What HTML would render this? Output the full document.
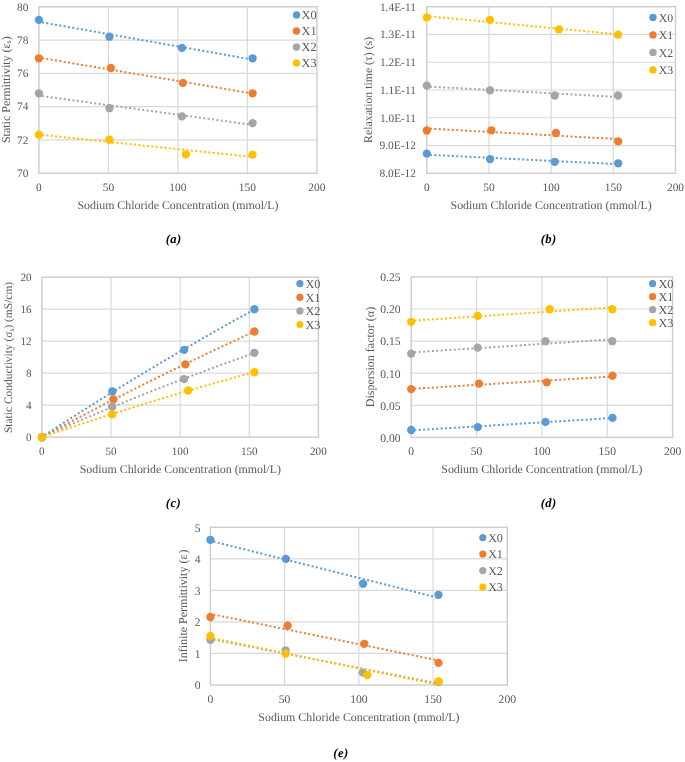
<!DOCTYPE html>
<html><head><meta charset="utf-8"><style>
html,body{margin:0;padding:0;background:#fff;}
svg{display:block;}
text{font-family:"Liberation Serif",serif;fill:#595959;text-rendering:geometricPrecision;}
</style></head><body>
<svg width="685" height="762" viewBox="0 0 685 762">
<rect width="685" height="762" fill="#fff"/>
<g><line x1="38.9" y1="40.08" x2="316.9" y2="40.08" stroke="#D9D9D9" stroke-width="1.2"/>
<line x1="38.9" y1="73.36" x2="316.9" y2="73.36" stroke="#D9D9D9" stroke-width="1.2"/>
<line x1="38.9" y1="106.64" x2="316.9" y2="106.64" stroke="#D9D9D9" stroke-width="1.2"/>
<line x1="38.9" y1="139.92" x2="316.9" y2="139.92" stroke="#D9D9D9" stroke-width="1.2"/>
<line x1="108.4" y1="6.8" x2="108.4" y2="173.2" stroke="#D9D9D9" stroke-width="1.2"/>
<line x1="177.9" y1="6.8" x2="177.9" y2="173.2" stroke="#D9D9D9" stroke-width="1.2"/>
<line x1="247.4" y1="6.8" x2="247.4" y2="173.2" stroke="#D9D9D9" stroke-width="1.2"/>
<rect x="38.9" y="6.8" width="278" height="166.4" fill="none" stroke="#CCCCCC" stroke-width="1.4"/>
<circle cx="38.9" cy="19.9" r="4.15" fill="#5B9BD5"/>
<circle cx="109.4" cy="36.7" r="4.15" fill="#5B9BD5"/>
<circle cx="181.9" cy="47.9" r="4.15" fill="#5B9BD5"/>
<circle cx="252.6" cy="58.3" r="4.15" fill="#5B9BD5"/>
<circle cx="38.9" cy="58.3" r="4.15" fill="#ED7D31"/>
<circle cx="110.9" cy="68" r="4.15" fill="#ED7D31"/>
<circle cx="182.9" cy="82.9" r="4.15" fill="#ED7D31"/>
<circle cx="252.6" cy="93.3" r="4.15" fill="#ED7D31"/>
<circle cx="38.9" cy="93.3" r="4.15" fill="#A5A5A5"/>
<circle cx="109.4" cy="108.2" r="4.15" fill="#A5A5A5"/>
<circle cx="181.9" cy="116.4" r="4.15" fill="#A5A5A5"/>
<circle cx="252.6" cy="123.1" r="4.15" fill="#A5A5A5"/>
<circle cx="38.9" cy="134.7" r="4.15" fill="#FFC000"/>
<circle cx="109.4" cy="139.7" r="4.15" fill="#FFC000"/>
<circle cx="185.9" cy="154.4" r="4.15" fill="#FFC000"/>
<circle cx="252.6" cy="154.6" r="4.15" fill="#FFC000"/>
<line x1="38.9" y1="21.79" x2="252.6" y2="59.63" stroke="#5B9BD5" stroke-width="2" stroke-dasharray="2 2.4" stroke-dashoffset="1.3"/>
<line x1="38.9" y1="57.56" x2="252.6" y2="93.5" stroke="#ED7D31" stroke-width="2" stroke-dasharray="2 2.4" stroke-dashoffset="1.3"/>
<line x1="38.9" y1="95.65" x2="252.6" y2="124.86" stroke="#A5A5A5" stroke-width="2" stroke-dasharray="2 2.4" stroke-dashoffset="1.3"/>
<line x1="38.9" y1="134.58" x2="252.6" y2="156.92" stroke="#FFC000" stroke-width="2" stroke-dasharray="2 2.4" stroke-dashoffset="1.3"/>
<circle cx="296.5" cy="15.05" r="3.7" fill="#5B9BD5"/>
<circle cx="296.5" cy="31.05" r="3.7" fill="#ED7D31"/>
<circle cx="296.5" cy="47.05" r="3.7" fill="#A5A5A5"/>
<circle cx="296.5" cy="63.05" r="3.7" fill="#FFC000"/></g>
<g><line x1="426.8" y1="34.47" x2="675.5" y2="34.47" stroke="#D9D9D9" stroke-width="1.2"/>
<line x1="426.8" y1="62.23" x2="675.5" y2="62.23" stroke="#D9D9D9" stroke-width="1.2"/>
<line x1="426.8" y1="90" x2="675.5" y2="90" stroke="#D9D9D9" stroke-width="1.2"/>
<line x1="426.8" y1="117.77" x2="675.5" y2="117.77" stroke="#D9D9D9" stroke-width="1.2"/>
<line x1="426.8" y1="145.53" x2="675.5" y2="145.53" stroke="#D9D9D9" stroke-width="1.2"/>
<line x1="488.98" y1="6.7" x2="488.98" y2="173.3" stroke="#D9D9D9" stroke-width="1.2"/>
<line x1="551.15" y1="6.7" x2="551.15" y2="173.3" stroke="#D9D9D9" stroke-width="1.2"/>
<line x1="613.33" y1="6.7" x2="613.33" y2="173.3" stroke="#D9D9D9" stroke-width="1.2"/>
<rect x="426.8" y="6.7" width="248.7" height="166.6" fill="none" stroke="#CCCCCC" stroke-width="1.4"/>
<circle cx="426.8" cy="153.6" r="4.15" fill="#5B9BD5"/>
<circle cx="490.1" cy="159.1" r="4.15" fill="#5B9BD5"/>
<circle cx="554.7" cy="161.8" r="4.15" fill="#5B9BD5"/>
<circle cx="618.2" cy="163.3" r="4.15" fill="#5B9BD5"/>
<circle cx="426.8" cy="130.5" r="4.15" fill="#ED7D31"/>
<circle cx="491.4" cy="130.3" r="4.15" fill="#ED7D31"/>
<circle cx="555.9" cy="133" r="4.15" fill="#ED7D31"/>
<circle cx="618.2" cy="141.4" r="4.15" fill="#ED7D31"/>
<circle cx="426.8" cy="85.6" r="4.15" fill="#A5A5A5"/>
<circle cx="490" cy="90.3" r="4.15" fill="#A5A5A5"/>
<circle cx="554.7" cy="95.5" r="4.15" fill="#A5A5A5"/>
<circle cx="618" cy="95.5" r="4.15" fill="#A5A5A5"/>
<circle cx="426.8" cy="17.4" r="4.15" fill="#FFC000"/>
<circle cx="490" cy="19.9" r="4.15" fill="#FFC000"/>
<circle cx="558.9" cy="29.3" r="4.15" fill="#FFC000"/>
<circle cx="618" cy="34.7" r="4.15" fill="#FFC000"/>
<line x1="426.8" y1="154.69" x2="618.2" y2="164.21" stroke="#5B9BD5" stroke-width="2" stroke-dasharray="2 2.4" stroke-dashoffset="1.3"/>
<line x1="426.8" y1="128.49" x2="618.2" y2="139.05" stroke="#ED7D31" stroke-width="2" stroke-dasharray="2 2.4" stroke-dashoffset="1.3"/>
<line x1="426.8" y1="86.5" x2="618" y2="96.96" stroke="#A5A5A5" stroke-width="2" stroke-dasharray="2 2.4" stroke-dashoffset="1.3"/>
<line x1="426.8" y1="16.09" x2="618" y2="34.37" stroke="#FFC000" stroke-width="2" stroke-dasharray="2 2.4" stroke-dashoffset="1.3"/>
<circle cx="653" cy="17.4" r="3.7" fill="#5B9BD5"/>
<circle cx="653" cy="34.9" r="3.7" fill="#ED7D31"/>
<circle cx="653" cy="52.4" r="3.7" fill="#A5A5A5"/>
<circle cx="653" cy="69.9" r="3.7" fill="#FFC000"/></g>
<g><line x1="41.9" y1="309.18" x2="318.4" y2="309.18" stroke="#D9D9D9" stroke-width="1.2"/>
<line x1="41.9" y1="341.16" x2="318.4" y2="341.16" stroke="#D9D9D9" stroke-width="1.2"/>
<line x1="41.9" y1="373.14" x2="318.4" y2="373.14" stroke="#D9D9D9" stroke-width="1.2"/>
<line x1="41.9" y1="405.12" x2="318.4" y2="405.12" stroke="#D9D9D9" stroke-width="1.2"/>
<line x1="111.03" y1="277.2" x2="111.03" y2="437.1" stroke="#D9D9D9" stroke-width="1.2"/>
<line x1="180.15" y1="277.2" x2="180.15" y2="437.1" stroke="#D9D9D9" stroke-width="1.2"/>
<line x1="249.28" y1="277.2" x2="249.28" y2="437.1" stroke="#D9D9D9" stroke-width="1.2"/>
<rect x="41.9" y="277.2" width="276.5" height="159.9" fill="none" stroke="#CCCCCC" stroke-width="1.4"/>
<circle cx="41.9" cy="437.2" r="4.15" fill="#5B9BD5"/>
<circle cx="112.4" cy="391.3" r="4.15" fill="#5B9BD5"/>
<circle cx="184.1" cy="349.9" r="4.15" fill="#5B9BD5"/>
<circle cx="254.4" cy="309.2" r="4.15" fill="#5B9BD5"/>
<circle cx="41.9" cy="437.2" r="4.15" fill="#ED7D31"/>
<circle cx="113.4" cy="399.3" r="4.15" fill="#ED7D31"/>
<circle cx="185.4" cy="364.3" r="4.15" fill="#ED7D31"/>
<circle cx="254.4" cy="331.5" r="4.15" fill="#ED7D31"/>
<circle cx="41.9" cy="437.2" r="4.15" fill="#A5A5A5"/>
<circle cx="112.2" cy="406.7" r="4.15" fill="#A5A5A5"/>
<circle cx="184.1" cy="379.1" r="4.15" fill="#A5A5A5"/>
<circle cx="254.4" cy="352.8" r="4.15" fill="#A5A5A5"/>
<circle cx="41.9" cy="437.2" r="4.15" fill="#FFC000"/>
<circle cx="112.2" cy="414.2" r="4.15" fill="#FFC000"/>
<circle cx="188.2" cy="390.5" r="4.15" fill="#FFC000"/>
<circle cx="254.4" cy="372.2" r="4.15" fill="#FFC000"/>
<path d="M41.9,436.93 Q148.15,367.47 254.4,309.47" fill="none" stroke="#5B9BD5" stroke-width="2" stroke-dasharray="2 2.4" stroke-dashoffset="1.3"/>
<path d="M41.9,437.08 Q148.15,379.98 254.4,331.62" fill="none" stroke="#ED7D31" stroke-width="2" stroke-dasharray="2 2.4" stroke-dashoffset="1.3"/>
<path d="M41.9,437.05 Q148.15,390.26 254.4,352.95" fill="none" stroke="#A5A5A5" stroke-width="2" stroke-dasharray="2 2.4" stroke-dashoffset="1.3"/>
<path d="M41.9,437.28 Q148.15,400.76 254.4,372.12" fill="none" stroke="#FFC000" stroke-width="2" stroke-dasharray="2 2.4" stroke-dashoffset="1.3"/>
<circle cx="299.9" cy="283.7" r="3.6" fill="#5B9BD5"/>
<circle cx="299.9" cy="297.3" r="3.6" fill="#ED7D31"/>
<circle cx="299.9" cy="310.9" r="3.6" fill="#A5A5A5"/>
<circle cx="299.9" cy="324.5" r="3.6" fill="#FFC000"/></g>
<g><line x1="411.2" y1="309" x2="672.6" y2="309" stroke="#D9D9D9" stroke-width="1.2"/>
<line x1="411.2" y1="341.1" x2="672.6" y2="341.1" stroke="#D9D9D9" stroke-width="1.2"/>
<line x1="411.2" y1="373.2" x2="672.6" y2="373.2" stroke="#D9D9D9" stroke-width="1.2"/>
<line x1="411.2" y1="405.3" x2="672.6" y2="405.3" stroke="#D9D9D9" stroke-width="1.2"/>
<line x1="476.55" y1="276.9" x2="476.55" y2="437.4" stroke="#D9D9D9" stroke-width="1.2"/>
<line x1="541.9" y1="276.9" x2="541.9" y2="437.4" stroke="#D9D9D9" stroke-width="1.2"/>
<line x1="607.25" y1="276.9" x2="607.25" y2="437.4" stroke="#D9D9D9" stroke-width="1.2"/>
<rect x="411.2" y="276.9" width="261.4" height="160.5" fill="none" stroke="#CCCCCC" stroke-width="1.4"/>
<circle cx="411.2" cy="430" r="4.15" fill="#5B9BD5"/>
<circle cx="477.7" cy="427.1" r="4.15" fill="#5B9BD5"/>
<circle cx="545.5" cy="421.9" r="4.15" fill="#5B9BD5"/>
<circle cx="612.5" cy="417.9" r="4.15" fill="#5B9BD5"/>
<circle cx="411.2" cy="389.1" r="4.15" fill="#ED7D31"/>
<circle cx="479" cy="383.6" r="4.15" fill="#ED7D31"/>
<circle cx="546.8" cy="382.4" r="4.15" fill="#ED7D31"/>
<circle cx="612.5" cy="375.7" r="4.15" fill="#ED7D31"/>
<circle cx="411.2" cy="353.6" r="4.15" fill="#A5A5A5"/>
<circle cx="477.7" cy="347.6" r="4.15" fill="#A5A5A5"/>
<circle cx="545.5" cy="341.2" r="4.15" fill="#A5A5A5"/>
<circle cx="612.3" cy="341.2" r="4.15" fill="#A5A5A5"/>
<circle cx="411.2" cy="321.8" r="4.15" fill="#FFC000"/>
<circle cx="477.7" cy="315.9" r="4.15" fill="#FFC000"/>
<circle cx="549.7" cy="309.2" r="4.15" fill="#FFC000"/>
<circle cx="612.3" cy="309.2" r="4.15" fill="#FFC000"/>
<line x1="411.2" y1="430.44" x2="612.5" y2="418" stroke="#5B9BD5" stroke-width="2" stroke-dasharray="2 2.4" stroke-dashoffset="1.3"/>
<line x1="411.2" y1="388.93" x2="612.5" y2="376.54" stroke="#ED7D31" stroke-width="2" stroke-dasharray="2 2.4" stroke-dashoffset="1.3"/>
<line x1="411.2" y1="352.43" x2="612.3" y2="339.36" stroke="#A5A5A5" stroke-width="2" stroke-dasharray="2 2.4" stroke-dashoffset="1.3"/>
<line x1="411.2" y1="320.76" x2="612.3" y2="307.42" stroke="#FFC000" stroke-width="2" stroke-dasharray="2 2.4" stroke-dashoffset="1.3"/>
<circle cx="652.6" cy="283.7" r="3.6" fill="#5B9BD5"/>
<circle cx="652.6" cy="296.7" r="3.6" fill="#ED7D31"/>
<circle cx="652.6" cy="309.7" r="3.6" fill="#A5A5A5"/>
<circle cx="652.6" cy="322.7" r="3.6" fill="#FFC000"/></g>
<g><line x1="210.4" y1="558.84" x2="507.3" y2="558.84" stroke="#D9D9D9" stroke-width="1.2"/>
<line x1="210.4" y1="590.38" x2="507.3" y2="590.38" stroke="#D9D9D9" stroke-width="1.2"/>
<line x1="210.4" y1="621.92" x2="507.3" y2="621.92" stroke="#D9D9D9" stroke-width="1.2"/>
<line x1="210.4" y1="653.46" x2="507.3" y2="653.46" stroke="#D9D9D9" stroke-width="1.2"/>
<line x1="284.62" y1="527.3" x2="284.62" y2="685" stroke="#D9D9D9" stroke-width="1.2"/>
<line x1="358.85" y1="527.3" x2="358.85" y2="685" stroke="#D9D9D9" stroke-width="1.2"/>
<line x1="433.07" y1="527.3" x2="433.07" y2="685" stroke="#D9D9D9" stroke-width="1.2"/>
<rect x="210.4" y="527.3" width="296.9" height="157.7" fill="none" stroke="#CCCCCC" stroke-width="1.4"/>
<circle cx="210.4" cy="539.8" r="4.15" fill="#5B9BD5"/>
<circle cx="285.9" cy="558.9" r="4.15" fill="#5B9BD5"/>
<circle cx="363.1" cy="583.7" r="4.15" fill="#5B9BD5"/>
<circle cx="438.5" cy="594.9" r="4.15" fill="#5B9BD5"/>
<circle cx="210.4" cy="617" r="4.15" fill="#ED7D31"/>
<circle cx="287.6" cy="625.7" r="4.15" fill="#ED7D31"/>
<circle cx="364.3" cy="643.8" r="4.15" fill="#ED7D31"/>
<circle cx="438.5" cy="662.9" r="4.15" fill="#ED7D31"/>
<circle cx="210.4" cy="639.9" r="4.15" fill="#A5A5A5"/>
<circle cx="285.6" cy="650.3" r="4.15" fill="#A5A5A5"/>
<circle cx="362.8" cy="672.6" r="4.15" fill="#A5A5A5"/>
<circle cx="438.5" cy="682" r="4.15" fill="#A5A5A5"/>
<circle cx="210.4" cy="635.9" r="4.15" fill="#FFC000"/>
<circle cx="285.6" cy="653.7" r="4.15" fill="#FFC000"/>
<circle cx="367.3" cy="675.1" r="4.15" fill="#FFC000"/>
<circle cx="438.5" cy="681.3" r="4.15" fill="#FFC000"/>
<line x1="210.4" y1="540.83" x2="438.5" y2="597.8" stroke="#5B9BD5" stroke-width="2" stroke-dasharray="2 2.4" stroke-dashoffset="1.3"/>
<line x1="210.4" y1="613.88" x2="438.5" y2="660.52" stroke="#ED7D31" stroke-width="2" stroke-dasharray="2 2.4" stroke-dashoffset="1.3"/>
<line x1="210.4" y1="638.95" x2="438.5" y2="683.5" stroke="#A5A5A5" stroke-width="2" stroke-dasharray="2 2.4" stroke-dashoffset="1.3"/>
<line x1="210.4" y1="637.74" x2="438.5" y2="684.85" stroke="#FFC000" stroke-width="2" stroke-dasharray="2 2.4" stroke-dashoffset="1.3"/>
<circle cx="482.8" cy="537.6" r="3.6" fill="#5B9BD5"/>
<circle cx="482.8" cy="554.1" r="3.6" fill="#ED7D31"/>
<circle cx="482.8" cy="570.6" r="3.6" fill="#A5A5A5"/>
<circle cx="482.8" cy="587.1" r="3.6" fill="#FFC000"/></g>
<g style="will-change:transform">
<text x="28.4" y="7.6" font-size="11.4" text-anchor="end" dominant-baseline="central">80</text>
<text x="28.4" y="40.88" font-size="11.4" text-anchor="end" dominant-baseline="central">78</text>
<text x="28.4" y="74.16" font-size="11.4" text-anchor="end" dominant-baseline="central">76</text>
<text x="28.4" y="107.44" font-size="11.4" text-anchor="end" dominant-baseline="central">74</text>
<text x="28.4" y="140.72" font-size="11.4" text-anchor="end" dominant-baseline="central">72</text>
<text x="28.4" y="174" font-size="11.4" text-anchor="end" dominant-baseline="central">70</text>
<text x="38.9" y="187.5" font-size="11.4" text-anchor="middle" dominant-baseline="central">0</text>
<text x="108.4" y="187.5" font-size="11.4" text-anchor="middle" dominant-baseline="central">50</text>
<text x="177.9" y="187.5" font-size="11.4" text-anchor="middle" dominant-baseline="central">100</text>
<text x="247.4" y="187.5" font-size="11.4" text-anchor="middle" dominant-baseline="central">150</text>
<text x="316.9" y="187.5" font-size="11.4" text-anchor="middle" dominant-baseline="central">200</text>
<text transform="translate(5.8,89.7) rotate(-90)" font-size="12" text-anchor="middle" dominant-baseline="central">Static Permittivity (ε<tspan font-size="8" dy="2">s</tspan><tspan dy="-2">)</tspan></text>
<text x="177.95" y="204.8" font-size="11.9" text-anchor="middle" dominant-baseline="central">Sodium Chloride Concentration (mmol/L)</text>
<text x="301.5" y="15.05" font-size="12.3" dominant-baseline="central">X0</text>
<text x="301.5" y="31.05" font-size="12.3" dominant-baseline="central">X1</text>
<text x="301.5" y="47.05" font-size="12.3" dominant-baseline="central">X2</text>
<text x="301.5" y="63.05" font-size="12.3" dominant-baseline="central">X3</text>
<text x="173.7" y="238.8" font-size="12.6" letter-spacing="0.4" font-weight="bold" font-style="italic" style="fill:#000" text-anchor="middle" dominant-baseline="central">(a)</text>
<text x="415.9" y="7.5" font-size="11.4" text-anchor="end" dominant-baseline="central">1.4E-11</text>
<text x="415.9" y="35.27" font-size="11.4" text-anchor="end" dominant-baseline="central">1.3E-11</text>
<text x="415.9" y="63.03" font-size="11.4" text-anchor="end" dominant-baseline="central">1.2E-11</text>
<text x="415.9" y="90.8" font-size="11.4" text-anchor="end" dominant-baseline="central">1.1E-11</text>
<text x="415.9" y="118.57" font-size="11.4" text-anchor="end" dominant-baseline="central">1.0E-11</text>
<text x="415.9" y="146.33" font-size="11.4" text-anchor="end" dominant-baseline="central">9.0E-12</text>
<text x="415.9" y="174.1" font-size="11.4" text-anchor="end" dominant-baseline="central">8.0E-12</text>
<text x="426.8" y="187.7" font-size="11.4" text-anchor="middle" dominant-baseline="central">0</text>
<text x="488.98" y="187.7" font-size="11.4" text-anchor="middle" dominant-baseline="central">50</text>
<text x="551.15" y="187.7" font-size="11.4" text-anchor="middle" dominant-baseline="central">100</text>
<text x="613.33" y="187.7" font-size="11.4" text-anchor="middle" dominant-baseline="central">150</text>
<text x="675.5" y="187.7" font-size="11.4" text-anchor="middle" dominant-baseline="central">200</text>
<text transform="translate(367.6,89.9) rotate(-90)" font-size="11.8" text-anchor="middle" dominant-baseline="central">Relaxation time (τ) (s)</text>
<text x="551.1" y="204.8" font-size="11.9" text-anchor="middle" dominant-baseline="central">Sodium Chloride Concentration (mmol/L)</text>
<text x="658.8" y="17.9" font-size="11.8" dominant-baseline="central">X0</text>
<text x="658.8" y="35.4" font-size="11.8" dominant-baseline="central">X1</text>
<text x="658.8" y="52.9" font-size="11.8" dominant-baseline="central">X2</text>
<text x="658.8" y="70.4" font-size="11.8" dominant-baseline="central">X3</text>
<text x="548.7" y="238.8" font-size="12.6" letter-spacing="0.4" font-weight="bold" font-style="italic" style="fill:#000" text-anchor="middle" dominant-baseline="central">(b)</text>
<text x="31.7" y="278" font-size="11.2" text-anchor="end" dominant-baseline="central">20</text>
<text x="31.7" y="309.98" font-size="11.2" text-anchor="end" dominant-baseline="central">16</text>
<text x="31.7" y="341.96" font-size="11.2" text-anchor="end" dominant-baseline="central">12</text>
<text x="31.7" y="373.94" font-size="11.2" text-anchor="end" dominant-baseline="central">8</text>
<text x="31.7" y="405.92" font-size="11.2" text-anchor="end" dominant-baseline="central">4</text>
<text x="31.7" y="437.9" font-size="11.2" text-anchor="end" dominant-baseline="central">0</text>
<text x="41.9" y="451.9" font-size="11.2" text-anchor="middle" dominant-baseline="central">0</text>
<text x="111.03" y="451.9" font-size="11.2" text-anchor="middle" dominant-baseline="central">50</text>
<text x="180.15" y="451.9" font-size="11.2" text-anchor="middle" dominant-baseline="central">100</text>
<text x="249.28" y="451.9" font-size="11.2" text-anchor="middle" dominant-baseline="central">150</text>
<text x="318.4" y="451.9" font-size="11.2" text-anchor="middle" dominant-baseline="central">200</text>
<text transform="translate(9.45,357.45) rotate(-90)" font-size="11.45" text-anchor="middle" dominant-baseline="central">Static Conductivity (σ<tspan font-size="7.5" dy="2">s</tspan><tspan dy="-2">) (mS/cm)</tspan></text>
<text x="180.3" y="469" font-size="11.9" text-anchor="middle" dominant-baseline="central">Sodium Chloride Concentration (mmol/L)</text>
<text x="305.4" y="283.9" font-size="12.3" dominant-baseline="central">X0</text>
<text x="305.4" y="297.5" font-size="12.3" dominant-baseline="central">X1</text>
<text x="305.4" y="311.1" font-size="12.3" dominant-baseline="central">X2</text>
<text x="305.4" y="324.7" font-size="12.3" dominant-baseline="central">X3</text>
<text x="173.4" y="503.3" font-size="12.6" letter-spacing="0.4" font-weight="bold" font-style="italic" style="fill:#000" text-anchor="middle" dominant-baseline="central">(c)</text>
<text x="400.6" y="277.7" font-size="11.6" text-anchor="end" dominant-baseline="central">0.25</text>
<text x="400.6" y="309.8" font-size="11.6" text-anchor="end" dominant-baseline="central">0.20</text>
<text x="400.6" y="341.9" font-size="11.6" text-anchor="end" dominant-baseline="central">0.15</text>
<text x="400.6" y="374" font-size="11.6" text-anchor="end" dominant-baseline="central">0.10</text>
<text x="400.6" y="406.1" font-size="11.6" text-anchor="end" dominant-baseline="central">0.05</text>
<text x="400.6" y="438.2" font-size="11.6" text-anchor="end" dominant-baseline="central">0.00</text>
<text x="411.2" y="451.9" font-size="11.6" text-anchor="middle" dominant-baseline="central">0</text>
<text x="476.55" y="451.9" font-size="11.6" text-anchor="middle" dominant-baseline="central">50</text>
<text x="541.9" y="451.9" font-size="11.6" text-anchor="middle" dominant-baseline="central">100</text>
<text x="607.25" y="451.9" font-size="11.6" text-anchor="middle" dominant-baseline="central">150</text>
<text x="672.6" y="451.9" font-size="11.6" text-anchor="middle" dominant-baseline="central">200</text>
<text transform="translate(369.7,357) rotate(-90)" font-size="12" text-anchor="middle" dominant-baseline="central">Dispersion factor (α)</text>
<text x="541.85" y="469" font-size="11.9" text-anchor="middle" dominant-baseline="central">Sodium Chloride Concentration (mmol/L)</text>
<text x="658.4" y="284.1" font-size="12.3" dominant-baseline="central">X0</text>
<text x="658.4" y="297.1" font-size="12.3" dominant-baseline="central">X1</text>
<text x="658.4" y="310.1" font-size="12.3" dominant-baseline="central">X2</text>
<text x="658.4" y="323.1" font-size="12.3" dominant-baseline="central">X3</text>
<text x="548.7" y="503.3" font-size="12.6" letter-spacing="0.4" font-weight="bold" font-style="italic" style="fill:#000" text-anchor="middle" dominant-baseline="central">(d)</text>
<text x="200.6" y="528.1" font-size="11.6" text-anchor="end" dominant-baseline="central">5</text>
<text x="200.6" y="559.64" font-size="11.6" text-anchor="end" dominant-baseline="central">4</text>
<text x="200.6" y="591.18" font-size="11.6" text-anchor="end" dominant-baseline="central">3</text>
<text x="200.6" y="622.72" font-size="11.6" text-anchor="end" dominant-baseline="central">2</text>
<text x="200.6" y="654.26" font-size="11.6" text-anchor="end" dominant-baseline="central">1</text>
<text x="200.6" y="685.8" font-size="11.6" text-anchor="end" dominant-baseline="central">0</text>
<text x="210.4" y="699.9" font-size="11.6" text-anchor="middle" dominant-baseline="central">0</text>
<text x="284.62" y="699.9" font-size="11.6" text-anchor="middle" dominant-baseline="central">50</text>
<text x="358.85" y="699.9" font-size="11.6" text-anchor="middle" dominant-baseline="central">100</text>
<text x="433.07" y="699.9" font-size="11.6" text-anchor="middle" dominant-baseline="central">150</text>
<text x="507.3" y="699.9" font-size="11.6" text-anchor="middle" dominant-baseline="central">200</text>
<text transform="translate(183.4,605.9) rotate(-90)" font-size="12" text-anchor="middle" dominant-baseline="central">Infinite Permittivity (ε<tspan dx="1">)</tspan></text>
<text x="358.9" y="716.8" font-size="11.9" text-anchor="middle" dominant-baseline="central">Sodium Chloride Concentration (mmol/L)</text>
<text x="488.2" y="537.8" font-size="12" dominant-baseline="central">X0</text>
<text x="488.2" y="554.3" font-size="12" dominant-baseline="central">X1</text>
<text x="488.2" y="570.8" font-size="12" dominant-baseline="central">X2</text>
<text x="488.2" y="587.3" font-size="12" dominant-baseline="central">X3</text>
<text x="340.9" y="752.9" font-size="12.6" letter-spacing="0.4" font-weight="bold" font-style="italic" style="fill:#000" text-anchor="middle" dominant-baseline="central">(e)</text>
</g>
</svg></body></html>
